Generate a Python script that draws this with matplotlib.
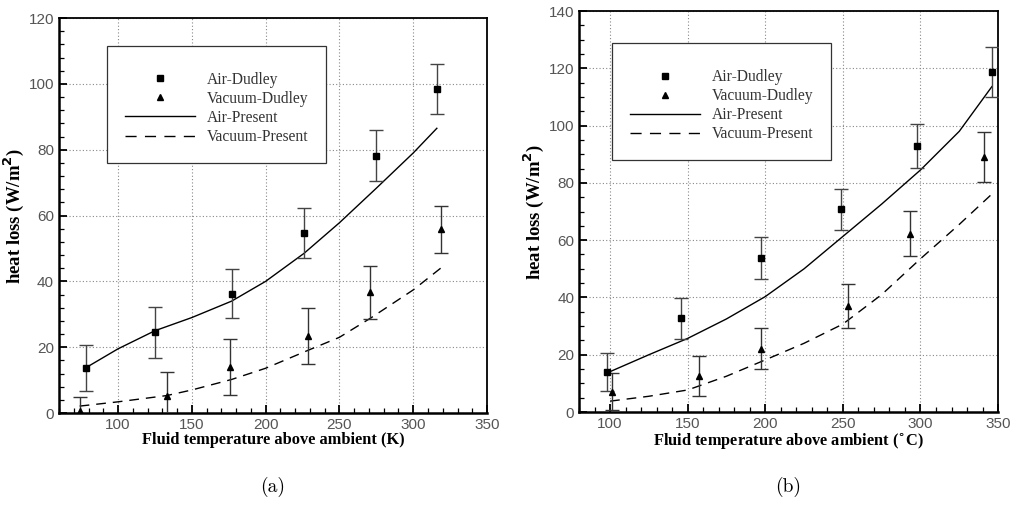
import matplotlib
matplotlib.use("Agg")
import matplotlib.pyplot as plt
from matplotlib.ticker import MultipleLocator
from matplotlib.lines import Line2D

# ---- panel (a): temperature in K ----
a_air_x = [78, 125, 177, 226, 275, 316]
a_air_y = [13.7, 24.5, 36.3, 54.7, 78.2, 98.4]
a_air_err = [7.0, 7.7, 7.4, 7.5, 7.8, 7.6]

a_vac_x = [74, 133, 176, 229, 271, 319]
a_vac_y = [0.6, 5.3, 14.0, 23.4, 36.7, 55.8]
a_vac_err = [4.2, 7.3, 8.5, 8.5, 8.0, 7.2]

a_air_fit_x = [78, 100, 125, 150, 177, 200, 226, 250, 275, 300, 316]
a_air_fit_y = [13.7, 19.5, 25.0, 29.0, 34.0, 40.0, 48.5, 57.8, 68.3, 79.0, 86.5]

a_vac_fit_x = [74, 100, 133, 150, 177, 200, 229, 250, 271, 300, 320]
a_vac_fit_y = [2.1, 3.4, 5.3, 7.0, 10.2, 13.6, 19.1, 23.0, 28.8, 37.4, 44.5]

# ---- panel (b): temperature in degC ----
b_air_x = [98, 146, 197, 249, 298, 346]
b_air_y = [14.0, 32.7, 53.7, 70.8, 92.9, 118.8]
b_air_err = [6.6, 7.2, 7.4, 7.1, 7.7, 8.7]

b_vac_x = [101, 157, 197, 253, 293, 341]
b_vac_y = [7.1, 12.6, 22.1, 37.0, 62.2, 89.0]
b_vac_err = [6.5, 7.0, 7.2, 7.7, 7.9, 8.8]

b_air_fit_x = [100, 125, 150, 175, 200, 225, 250, 275, 300, 325, 346]
b_air_fit_y = [14.1, 20.0, 25.7, 32.5, 40.3, 50.0, 61.3, 72.6, 84.5, 98.0, 113.6]

b_vac_fit_x = [100, 125, 150, 175, 200, 225, 250, 275, 300, 325, 347]
b_vac_fit_y = [3.8, 5.5, 7.7, 12.5, 18.2, 24.0, 30.7, 41.0, 53.5, 65.5, 76.6]

legend_labels = ["Air-Dudley", "Vacuum-Dudley", "Air-Present", "Vacuum-Present"]

serif = ["Liberation Serif", "DejaVu Serif"]
tick_font = ["Liberation Sans", "DejaVu Sans"]


def draw_panel(ax, air, vac, air_fit, vac_fit, xlim, ylim, ymajor, yminor,
               xlabel, caption, leg_bbox):
    ax.plot(air_fit[0], air_fit[1], color="black", lw=1.0, zorder=3)
    ax.plot(vac_fit[0], vac_fit[1], color="black", lw=1.0,
            dashes=(7, 5), zorder=3)
    ax.errorbar(air[0], air[1], yerr=air[2], fmt="s", color="black",
                ms=4, ecolor="#444444", elinewidth=1.0, capsize=5,
                capthick=1.0, zorder=4)
    ax.errorbar(vac[0], vac[1], yerr=vac[2], fmt="^", color="black",
                ms=4.5, ecolor="#333333", elinewidth=1.0, capsize=5,
                capthick=1.0, zorder=4)

    ax.set_xlim(*xlim)
    ax.set_ylim(*ylim)
    ax.xaxis.set_major_locator(MultipleLocator(50))
    ax.xaxis.set_minor_locator(MultipleLocator(10))
    ax.yaxis.set_major_locator(MultipleLocator(ymajor))
    ax.yaxis.set_minor_locator(MultipleLocator(yminor))
    ax.tick_params(which="both", direction="in", top=False, right=False,
                   labelsize=11, labelcolor="#555555", color="black")
    ax.tick_params(which="major", length=6, width=1.3)
    ax.tick_params(which="minor", length=3.5, width=0.9)
    for lab in ax.get_xticklabels() + ax.get_yticklabels():
        lab.set_family(tick_font)
    ax.grid(True, which="major", linestyle=(0, (1, 2)), color="#888888",
            linewidth=0.8)
    ax.spines["left"].set_linewidth(1.8)
    ax.spines["bottom"].set_linewidth(1.8)
    ax.spines["top"].set_linewidth(1.3)
    ax.spines["right"].set_linewidth(1.3)

    ax.set_xlabel(xlabel, fontfamily=serif, fontweight="bold", fontsize=11.8,
                  labelpad=0)
    ax.set_ylabel("heat loss (W/m$^{\\mathbf{2}}$)", fontfamily=serif,
                  fontweight="bold", fontsize=13.5, labelpad=2)
    ax.text(0.5, -0.187, caption, transform=ax.transAxes, ha="center",
            va="center", fontsize=14, fontfamily="cmr10")

    handles = [
        Line2D([], [], marker="s", ls="none", color="black", ms=4),
        Line2D([], [], marker="^", ls="none", color="black", ms=4.5),
        Line2D([], [], color="black", lw=1.0),
        Line2D([], [], color="black", lw=1.0, dashes=(8, 6)),
    ]
    leg = ax.legend(handles, legend_labels, loc="upper left",
                    bbox_to_anchor=leg_bbox, fancybox=False, framealpha=1,
                    edgecolor="#333333", handlelength=4.5, handletextpad=0.75,
                    labelspacing=0.2, borderpad=1.15, borderaxespad=0,
                    title=" ", title_fontsize=4,
                    prop={"family": serif, "size": 11.2})
    leg.get_frame().set_linewidth(0.9)
    for t in leg.get_texts():
        t.set_color("#333333")


fig = plt.figure(figsize=(10.1, 5.24), dpi=100)
ax1 = fig.add_axes([0.0584, 0.2118, 0.4238, 0.7538])
ax2 = fig.add_axes([0.5733, 0.2137, 0.4149, 0.7653])

draw_panel(ax1, (a_air_x, a_air_y, a_air_err), (a_vac_x, a_vac_y, a_vac_err),
           (a_air_fit_x, a_air_fit_y), (a_vac_fit_x, a_vac_fit_y),
           (60, 350), (0, 120), 20, 4,
           "Fluid temperature above ambient (K)", "(a)", (0.112, 0.93))
draw_panel(ax2, (b_air_x, b_air_y, b_air_err), (b_vac_x, b_vac_y, b_vac_err),
           (b_air_fit_x, b_air_fit_y), (b_vac_fit_x, b_vac_fit_y),
           (80, 350), (0, 140), 20, 5,
           "Fluid temperature above ambient ($\\mathbf{^{\\circ}}$C)", "(b)",
           (0.079, 0.92))

fig.savefig("out.png", dpi=100)
